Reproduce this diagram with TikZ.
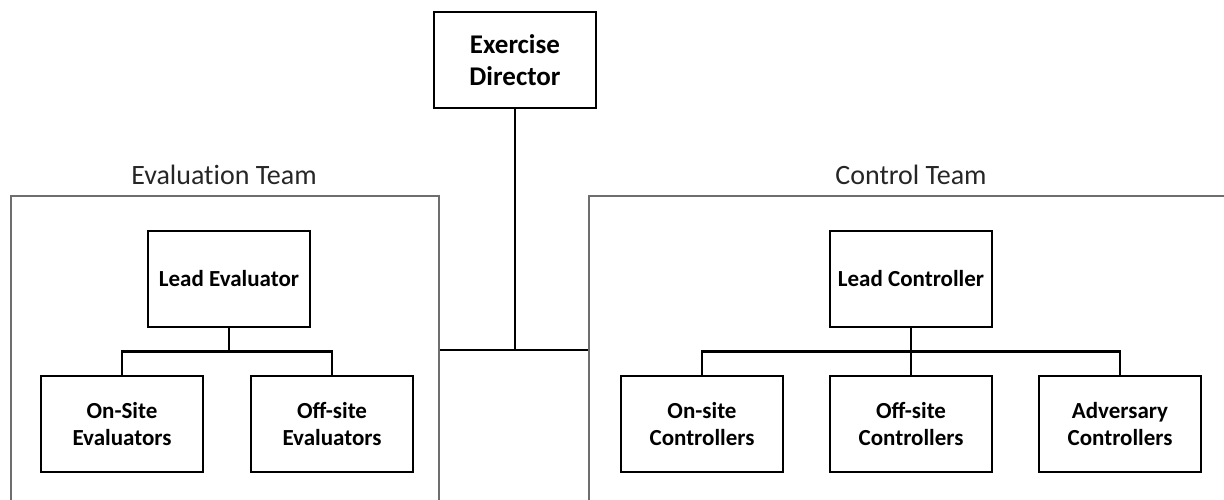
\documentclass[tikz,border=0pt]{standalone}
\usepackage{fontspec}
\setmainfont{Carlito}
\definecolor{Framegray}{RGB}{110,110,110}

\begin{document}
\begin{tikzpicture}[x=1pt, y=-1pt,
        orgbox/.style={draw, line width=1.4pt, fill=white, minimum width=162pt, minimum height=96pt,
            inner sep=0pt, align=center, font=\fontsize{23}{27}\selectfont\bfseries},
        teambox/.style={draw=Framegray, line width=1.6pt, anchor=north west, inner sep=0pt},
        teamlabel/.style={font=\fontsize{28}{32}\selectfont, text=black!85},
        link/.style={line width=2.6pt, black}]
            \useasboundingbox (0,0) rectangle (1224,500);

            % team frames, cut off by the page edge
            \node[teambox, minimum width=428pt, minimum height=330pt] (evalteam) at (10,195) {};
            \node[teambox, minimum width=660pt, minimum height=330pt] (ctrlteam) at (588,195) {};
            \node[teamlabel] (evallabel) at (224,175) {Evaluat\kern0pt ion Team};
            \node[teamlabel] (ctrllabel) at (911,175) {Control Team};

            % top
            \node[orgbox, font=\fontsize{27}{32}\selectfont\bfseries] (director) at (515,60) {Exercise\\Director};
            \coordinate (hub) at (515,350);
            \draw[link] (director.south) -- (hub);
            \draw[link] (evalteam.east |- hub) -- (ctrlteam.west |- hub);

            % evaluation team
            \node[orgbox] (leadeval) at (229,279) {Lead Evaluator};
            \node[orgbox] (onsiteeval) at (122,424) {On-Site\\Evaluators};
            \node[orgbox] (offsiteeval) at (332,424) {Off-site\\Evaluators};
            \draw[link] (leadeval.south) -- ++(0,24) -| (onsiteeval.north);
            \draw[link] (leadeval.south) -- ++(0,24) -| (offsiteeval.north);

            % control team
            \node[orgbox] (leadctrl) at (911,279) {Lead Controller};
            \node[orgbox] (onsitectrl) at (702,424) {On-site\\Controllers};
            \node[orgbox] (offsitectrl) at (911,424) {Off-site\\Controllers};
            \node[orgbox] (advctrl) at (1120,424) {Adversary\\Controllers};
            \draw[link] (leadctrl.south) -- ++(0,24) -| (onsitectrl.north);
            \draw[link] (leadctrl.south) -- (offsitectrl.north);
            \draw[link] (leadctrl.south) -- ++(0,24) -| (advctrl.north);
        \end{tikzpicture}
\end{document}
